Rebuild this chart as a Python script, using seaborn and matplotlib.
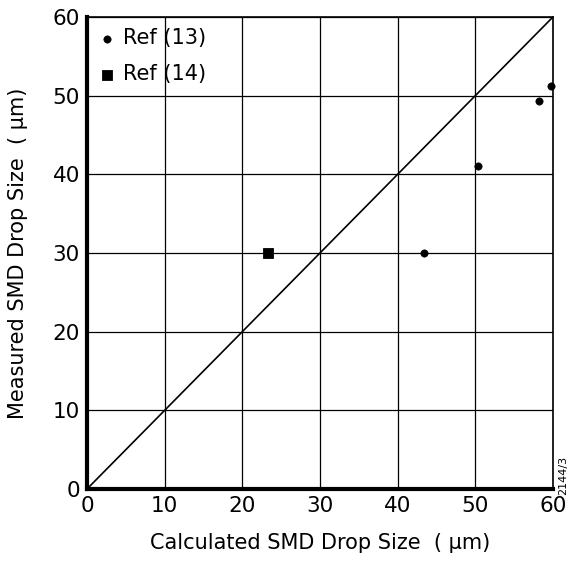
import matplotlib
matplotlib.use("Agg")
import matplotlib.pyplot as plt
import seaborn as sns
import pandas as pd

# Data
ref13_x = [43.4, 50.3, 58.2, 59.8]
ref13_y = [30.0, 41.0, 49.3, 51.2]
ref14_x = [23.3]
ref14_y = [30.0]
diag_x = [0, 60]
diag_y = [0, 60]
ticks = [0, 10, 20, 30, 40, 50, 60]

sns.set_theme(style="white")
plt.rcParams['font.family'] = ['DejaVu Sans']
plt.rcParams['text.color'] = 'black'

fig = plt.figure(figsize=(5.76, 5.66), dpi=100)
ax = fig.add_axes([0.151, 0.136, 0.809, 0.834])

df13 = pd.DataFrame({"x": ref13_x, "y": ref13_y})
df14 = pd.DataFrame({"x": ref14_x, "y": ref14_y})
dfd = pd.DataFrame({"x": diag_x, "y": diag_y})

sns.lineplot(data=dfd, x="x", y="y", ax=ax, color="black", linewidth=1.2, legend=False)
sns.scatterplot(data=df13, x="x", y="y", ax=ax, color="black", marker="o", s=28,
                edgecolor="black", label="Ref (13)", zorder=5, clip_on=False)
sns.scatterplot(data=df14, x="x", y="y", ax=ax, color="black", marker="s", s=55,
                edgecolor="black", label="Ref (14)", zorder=5, clip_on=False)

ax.set_xlim(0, 60)
ax.set_ylim(0, 60)
ax.set_xticks(ticks)
ax.set_yticks(ticks)
ax.set_xticklabels([str(t) for t in ticks])
ax.set_yticklabels([str(t) for t in ticks])
ax.grid(True, color="black", linewidth=0.9)
ax.set_axisbelow(True)
ax.tick_params(axis="both", length=0, labelsize=15.5, colors="black", pad=5)

for side in ["top", "right"]:
    ax.spines[side].set_color("black")
    ax.spines[side].set_linewidth(1.2)
for side in ["left", "bottom"]:
    ax.spines[side].set_color("black")
    ax.spines[side].set_linewidth(3)

ax.set_xlabel("Calculated SMD Drop Size  ( μm)", fontsize=15, color="black", labelpad=12)
ax.set_ylabel("Measured SMD Drop Size  ( μm)", fontsize=15, color="black", labelpad=18)

leg = ax.legend(loc="upper left", frameon=False, fontsize=15, handletextpad=0.4,
                handlelength=0.8, borderaxespad=0.2, labelspacing=0.75,
                borderpad=0.35)
for t in leg.get_texts():
    t.set_color("black")

fig.text(0.977, 0.16, "2144/3", rotation=90, fontsize=8, ha="center", va="center")

fig.savefig("out.png", dpi=100)
